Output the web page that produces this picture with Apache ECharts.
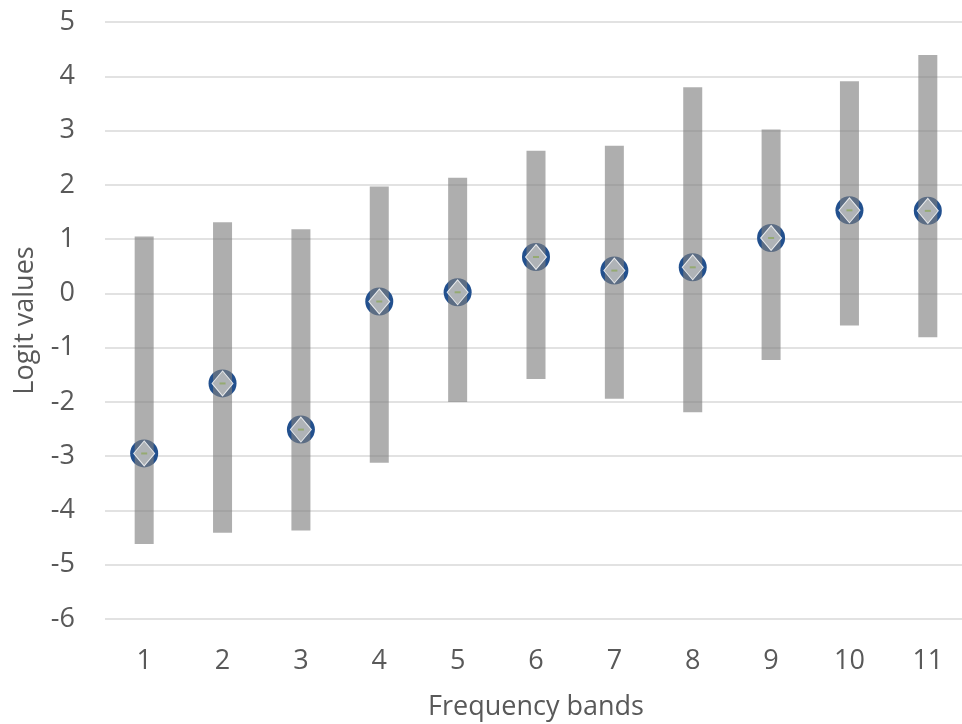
<!DOCTYPE html>
<html>
<head>
<meta charset="utf-8">
<script src="https://cdn.jsdelivr.net/npm/echarts@6/dist/echarts.min.js"></script>
<style>html,body{margin:0;padding:0;background:#fff}#c{width:962px;height:724px}</style>
</head>
<body>
<div id="c"></div>
<script>
var categories = ['1','2','3','4','5','6','7','8','9','10','11'];
var highValues = [1.05, 1.31, 1.18, 1.97, 2.13, 2.63, 2.72, 3.80, 3.02, 3.91, 4.39];
var lowValues = [-4.62, -4.41, -4.37, -3.12, -2.00, -1.58, -1.94, -2.19, -1.23, -0.59, -0.81];
var pointValues = [-2.95, -1.66, -2.51, -0.15, 0.02, 0.67, 0.42, 0.48, 1.02, 1.53, 1.52];

var rangeData = categories.map(function (c, i) { return [i, lowValues[i], highValues[i]]; });
var font = '"Open Sans", "Noto Sans", sans-serif';

var chart = echarts.init(document.getElementById('c'), null, {renderer: 'canvas'});
chart.setOption({
  animation: false,
  backgroundColor: '#ffffff',
  grid: {left: 105, right: -5, top: 22, bottom: 105, containLabel: false, outerBoundsMode: 'none'},
  xAxis: {
    type: 'category',
    data: categories,
    name: 'Frequency bands',
    nameLocation: 'middle',
    nameGap: 75,
    nameTextStyle: {color: '#595959', fontSize: 27, fontFamily: font},
    axisLine: {show: false},
    axisTick: {show: false},
    axisLabel: {color: '#595959', fontSize: 27, fontFamily: font, margin: 29},
    splitLine: {show: false}
  },
  yAxis: {
    type: 'value',
    min: -6, max: 5, interval: 1,
    name: 'Logit values',
    nameLocation: 'middle',
    nameGap: 66,
    nameRotate: 90,
    nameTextStyle: {color: '#595959', fontSize: 27, fontFamily: font},
    axisLine: {show: false},
    axisTick: {show: false},
    axisLabel: {color: '#595959', fontSize: 27, fontFamily: font, margin: 30},
    splitLine: {lineStyle: {color: '#d9d9d9', width: 1.5}}
  },
  series: [
    {
      type: 'scatter',
      data: pointValues,
      symbol: 'circle',
      symbolSize: 28,
      itemStyle: {color: '#22508e', opacity: 1},
      z: 2
    },
    {
      type: 'custom',
      data: rangeData,
      encode: {x: 0, y: [1, 2]},
      renderItem: function (params, api) {
        var x = api.value(0);
        var lo = api.coord([x, api.value(1)]);
        var hi = api.coord([x, api.value(2)]);
        var w = 19;
        return {
          type: 'rect',
          shape: {x: lo[0] - w / 2, y: hi[1], width: w, height: lo[1] - hi[1]},
          style: {fill: 'rgba(127,127,127,0.63)'}
        };
      },
      z: 3
    },
    {
      type: 'scatter',
      data: pointValues,
      symbol: 'diamond',
      symbolSize: [21, 25],
      itemStyle: {color: '#c4c4c4', borderColor: '#ffffff', borderWidth: 1},
      z: 4
    },
    {
      type: 'scatter',
      data: pointValues,
      symbol: 'rect',
      symbolSize: [6, 2],
      itemStyle: {color: '#8fa860'},
      z: 5
    }
  ]
});
</script>
</body>
</html>
